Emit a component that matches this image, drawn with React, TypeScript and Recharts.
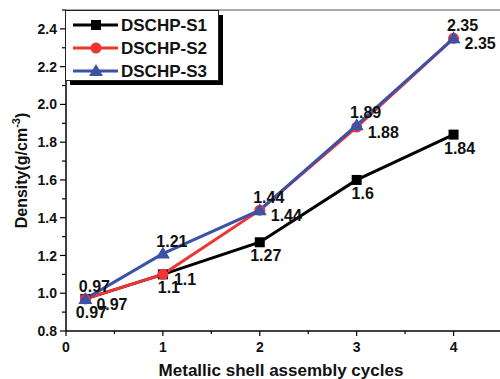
import React from 'react';
import { LineChart, Line, XAxis, YAxis, ReferenceLine } from 'recharts';

// Density after each shell assembly cycle
const cycles = [0.2, 1, 2, 3, 4];
const s1Density = [0.97, 1.1, 1.27, 1.6, 1.84];
const s2Density = [0.97, 1.1, 1.44, 1.88, 2.35];
const s3Density = [0.97, 1.21, 1.44, 1.89, 2.35];
const seriesNames = ['DSCHP-S1', 'DSCHP-S2', 'DSCHP-S3'];

const xTicks = [0, 0.5, 1, 1.5, 2, 2.5, 3, 3.5, 4, 4.5];
const yTicks = [0.8, 0.9, 1.0, 1.1, 1.2, 1.3, 1.4, 1.5, 1.6, 1.7, 1.8, 1.9, 2.0, 2.1, 2.2, 2.3, 2.4, 2.5];

const rows = cycles.map((x, i) => ({
  x,
  s1: s1Density[i],
  s2: s2Density[i],
  s3: s3Density[i],
}));

const FONT = '"Liberation Sans", Arial, sans-serif';
const BLACK = '#000000';
const RED = '#ee3434';
const BLUE = '#3b52a6';

const XTick = ({ x, y, payload }: any) => {
  const v = payload.value;
  const major = Number.isInteger(v);
  return (
    <g>
      <line x1={x} y1={y} x2={x} y2={y + (major ? 5 : 3)} stroke="#000" strokeWidth={1.2} />
      {major && (
        <text x={x} y={y + 21} textAnchor="middle" fontFamily={FONT} fontWeight="bold" fontSize={14} fill="#111">
          {v}
        </text>
      )}
    </g>
  );
};

const YTick = ({ x, y, payload }: any) => {
  const v = payload.value;
  const major = Math.round(v * 10) % 2 === 0 && v < 2.45;
  return (
    <g>
      <line x1={x} y1={y} x2={x - (major ? 6 : 4)} y2={y} stroke="#000" strokeWidth={1.2} />
      {major && (
        <text x={x - 9} y={y} dy="0.36em" textAnchor="end" fontFamily={FONT} fontWeight="bold" fontSize={14} fill="#111">
          {v.toFixed(1)}
        </text>
      )}
    </g>
  );
};

const squareDot = (p: any) => (
  <rect key={`sq-${p.index}`} x={p.cx - 5} y={p.cy - 5} width={10} height={10} fill={BLACK} />
);
const circleDot = (p: any) => (
  <circle key={`ci-${p.index}`} cx={p.cx} cy={p.cy} r={5.5} fill={RED} />
);
const triangleDot = (p: any) => (
  <polygon
    key={`tr-${p.index}`}
    points={`${p.cx},${p.cy - 7} ${p.cx - 7},${p.cy + 5} ${p.cx + 7},${p.cy + 5}`}
    fill={BLUE}
  />
);

// value labels: S1 below, S2 right, S3 above
const makeLabel = (dx: number, dy: number, anchor: string) => (p: any) => (
  <text
    key={`lb-${p.index}`}
    x={p.x + dx}
    y={p.y + dy}
    textAnchor={anchor}
    fontFamily={FONT}
    fontWeight="bold"
    fontSize={16}
    fill="#111"
  >
    {p.value}
  </text>
);

const AxisTitleY = ({ viewBox }: any) => {
  const cx = 21;
  const cy = viewBox.y + viewBox.height / 2;
  return (
    <text
      x={cx}
      y={cy}
      transform={`rotate(-90, ${cx}, ${cy})`}
      textAnchor="middle"
      dy="0.36em"
      fontFamily={FONT}
      fontWeight="bold"
      fontSize={16}
      fill="#111"
    >
      Density(g/cm
      <tspan dy={-7} fontSize={11}>-3</tspan>
      <tspan dy={7} fontSize={16}>)</tspan>
    </text>
  );
};

const AxisTitleX = ({ viewBox }: any) => (
  <text
    x={viewBox.x + viewBox.width / 2 - 3}
    y={376}
    textAnchor="middle"
    fontFamily={FONT}
    fontWeight="bold"
    fontSize={17}
    fill="#111"
  >
    Metallic shell assembly cycles
  </text>
);

const legendItems = [
  { name: seriesNames[0], color: BLACK, shape: 'square' },
  { name: seriesNames[1], color: RED, shape: 'circle' },
  { name: seriesNames[2], color: BLUE, shape: 'triangle' },
];

const LegendBox = () => (
  <svg width={162} height={80} style={{ position: 'absolute', left: 65, top: 10 }}>
    <rect x={5} y={5} width={153} height={70} fill="#000" />
    <rect x={0.5} y={0.5} width={153} height={70} fill="#fff" stroke="#222" strokeWidth={1} />
    {legendItems.map((it, i) => {
      const cy = 15 + i * 23;
      const cx = 31;
      return (
        <g key={it.name}>
          <line x1={8} y1={cy} x2={53} y2={cy} stroke={it.color} strokeWidth={3} />
          {it.shape === 'square' && <rect x={cx - 5} y={cy - 5} width={10} height={10} fill={it.color} />}
          {it.shape === 'circle' && <circle cx={cx} cy={cy} r={5.5} fill={it.color} />}
          {it.shape === 'triangle' && (
            <polygon points={`${cx},${cy - 7} ${cx - 7},${cy + 5} ${cx + 7},${cy + 5}`} fill={it.color} />
          )}
          <text x={56} y={cy} dy="0.36em" fontFamily={FONT} fontWeight="bold" fontSize={17} fill="#111">
            {it.name}
          </text>
        </g>
      );
    })}
  </svg>
);

export default function App() {
  return (
    <div
      style={{
        position: 'absolute',
        left: 0,
        top: 0,
        width: 500,
        height: 379,
        overflow: 'hidden',
        background: '#fff',
      }}
    >
      <LineChart width={502} height={379} data={rows} margin={{ top: 10, right: 0, bottom: 0, left: 0 }}>
        <XAxis
          dataKey="x"
          type="number"
          domain={[0, 4.5]}
          ticks={xTicks}
          interval={0}
          height={48}
          tickSize={0}
          tickMargin={0}
          tickLine={false}
          tick={<XTick />}
          axisLine={{ stroke: '#000', strokeWidth: 1.5 }}
          label={{ content: <AxisTitleX /> }}
        />
        <YAxis
          type="number"
          domain={[0.8, 2.5]}
          ticks={yTicks}
          interval={0}
          width={66}
          tickSize={0}
          tickMargin={0}
          tickLine={false}
          tick={<YTick />}
          axisLine={{ stroke: '#000', strokeWidth: 1.5 }}
          label={{ content: <AxisTitleY /> }}
        />
        <ReferenceLine y={2.5} stroke="#555" strokeWidth={1} />
        <Line
          dataKey="s1"
          name={seriesNames[0]}
          stroke={BLACK}
          strokeWidth={3}
          dot={squareDot}
          label={makeLabel(6, 19, 'middle')}
          isAnimationActive={false}
        />
        <Line
          dataKey="s2"
          name={seriesNames[1]}
          stroke={RED}
          strokeWidth={3}
          dot={circleDot}
          label={makeLabel(11, 11, 'start')}
          isAnimationActive={false}
        />
        <Line
          dataKey="s3"
          name={seriesNames[2]}
          stroke={BLUE}
          strokeWidth={3}
          dot={triangleDot}
          label={makeLabel(9, -7, 'middle')}
          isAnimationActive={false}
        />
      </LineChart>
      <LegendBox />
    </div>
  );
}
